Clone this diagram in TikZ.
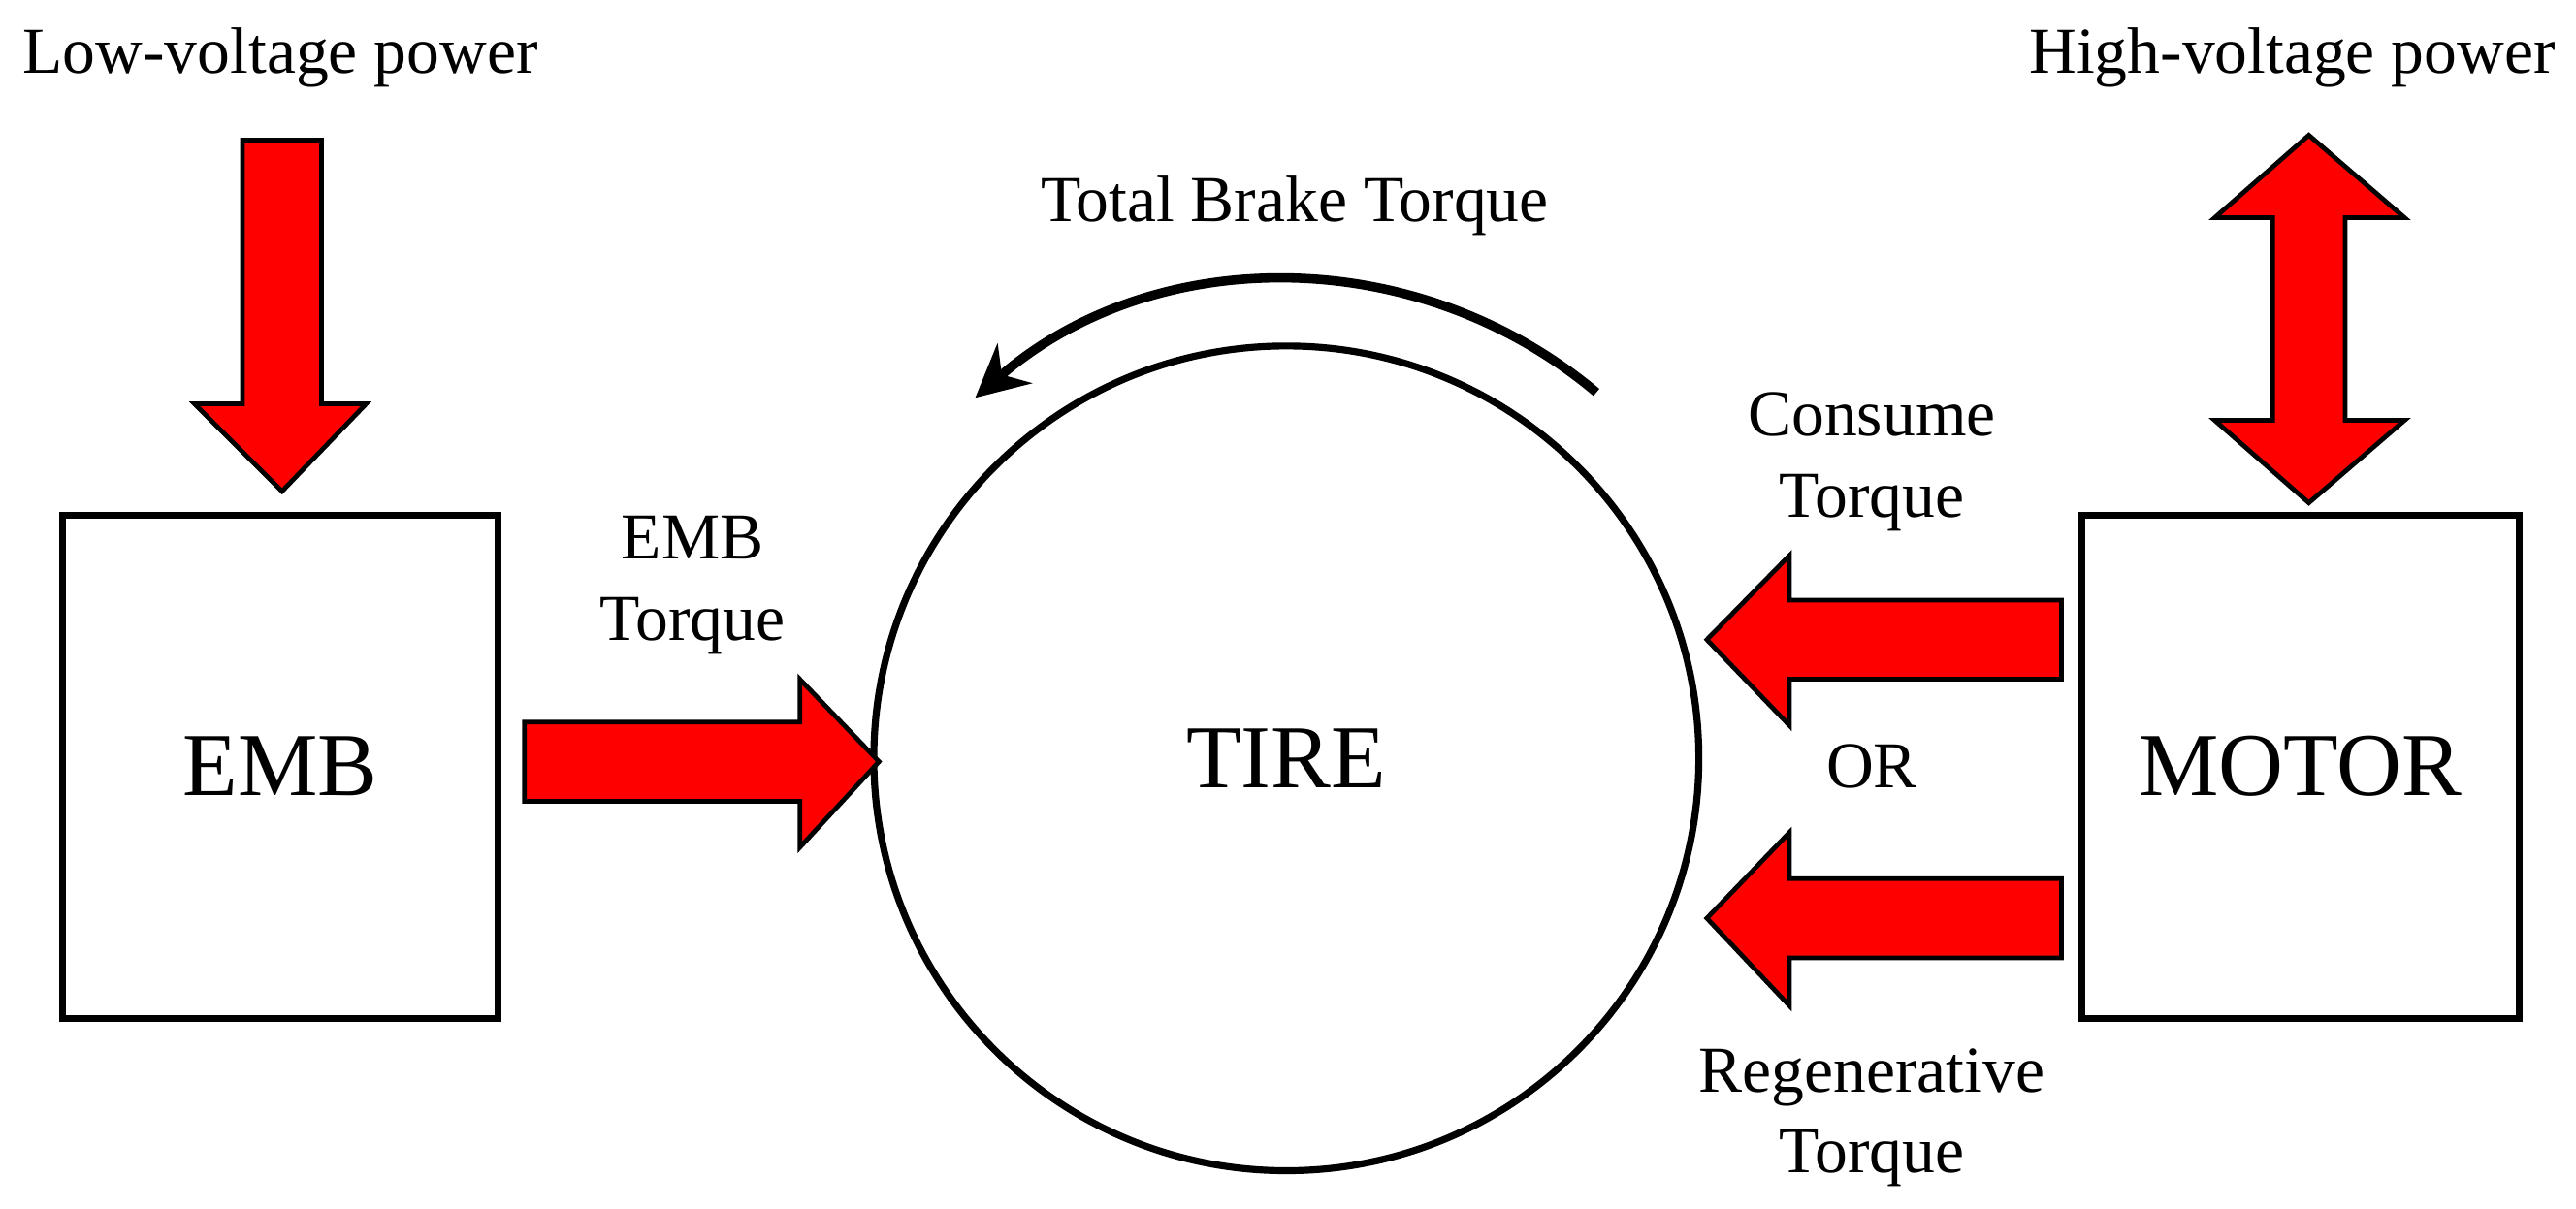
\documentclass[tikz,border=0pt]{standalone}
\usepackage{fontspec}
\setmainfont{Liberation Serif}
\usetikzlibrary{arrows.meta}
\begin{document}
\begin{tikzpicture}[x=0.01cm,y=-0.01cm,
  blk/.style={draw=black,line width=1.2pt,fill=white},
  red/.style={draw=black,line width=0.8pt,fill=red},
  lbl/.style={font=\fontsize{11.3}{14}\selectfont,align=center},
  big/.style={font=\fontsize{15.5}{18}\selectfont}]
\useasboundingbox (0,0) rectangle (1562,733);
\node[blk,minimum width=2.64cm,minimum height=3.05cm] (emb) at (170,465) {};
\node[big] at (emb) {EMB};
\node[blk,minimum width=2.65cm,minimum height=3.05cm] (motor) at (1395,465) {};
\node[big] at (motor) {MOTOR};
\node[blk,circle,minimum size=5.0cm,inner sep=0pt] (tire) at (780,460) {};
\node[big] at (tire) {TIRE};
% low-voltage arrow
\filldraw[red] (147,85) -- (195,85) -- (195,245) -- (222,245) -- (171,298) -- (118,245) -- (147,245) -- cycle;
% high-voltage double arrow
\filldraw[red] (1400,82) -- (1458,132) -- (1422,132) -- (1422,255) -- (1458,255) -- (1400,305) -- (1343,255) -- (1378,255) -- (1378,132) -- (1343,132) -- cycle;
% EMB torque arrow
\filldraw[red] (318,438) -- (485,438) -- (485,412) -- (533,462) -- (485,514) -- (485,486) -- (318,486) -- cycle;
% consume
\filldraw[red] (1250,364) -- (1085,364) -- (1085,337) -- (1035,388) -- (1085,440) -- (1085,412) -- (1250,412) -- cycle;
% regenerative
\filldraw[red] (1250,533) -- (1085,533) -- (1085,505) -- (1035,557) -- (1085,610) -- (1085,581) -- (1250,581) -- cycle;
% curved arrow
\draw[line width=1.6pt,-{Stealth[length=9pt,width=9pt]}] (968,238) arc[start angle=-50,end angle=-131,radius=290];
\node[lbl] at (170,35) {Low-voltage power};
\node[lbl] at (1390,35) {High-voltage power};
\node[lbl] at (785,125) {Total Brake Torque};
\node[lbl] at (420,355) {EMB\\Torque};
\node[lbl] at (1135,280) {Consume\\Torque};
\node[lbl] at (1135,465) {OR};
\node[lbl] at (1135,678) {Regenerative\\Torque};
\end{tikzpicture}
\end{document}
